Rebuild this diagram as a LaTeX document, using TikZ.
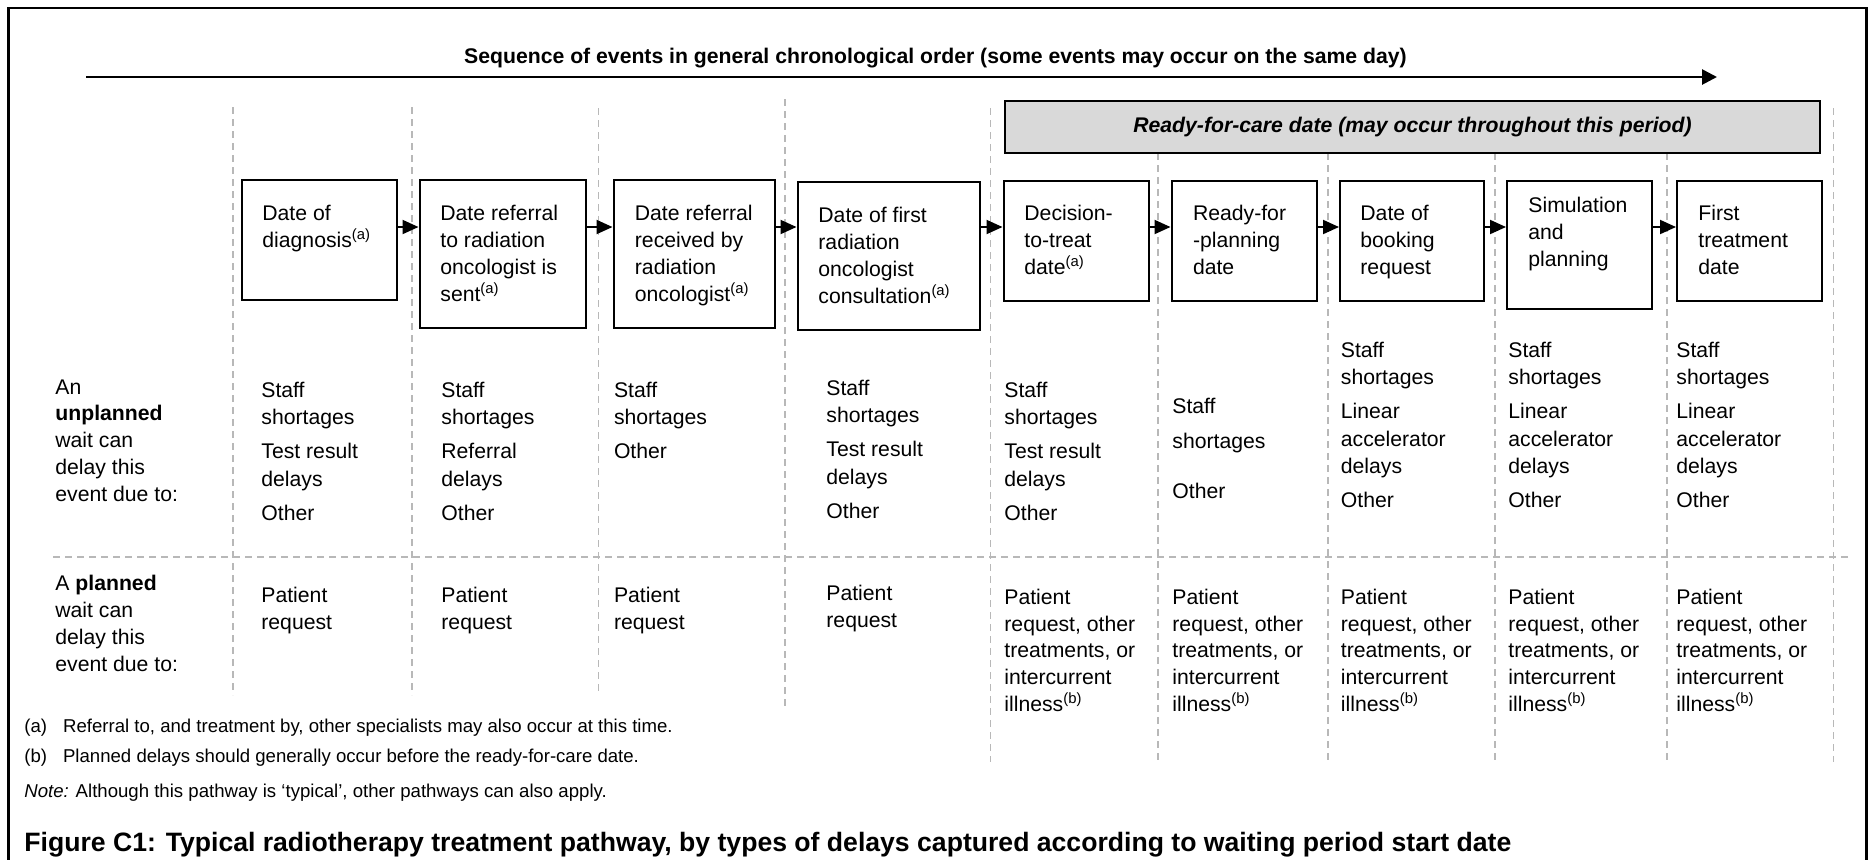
\documentclass[tikz,border=0pt]{standalone}
\usepackage{fontspec}
\setmainfont{Liberation Sans}
\usetikzlibrary{arrows.meta,fit}

\begin{document}
\begin{tikzpicture}[x=0.5pt,y=-0.5pt]
		\tikzset{>={Triangle[length=8pt,width=7pt]},
			evbox/.style={draw, line width=1pt, inner sep=0pt, fill=white},
			evtext/.style={anchor=north west, yshift=7.75pt, align=left, inner sep=0pt, font=\fontsize{10.6}{13.4}\selectfont},
			cause/.style={evtext, font=\fontsize{10.6}{13.7}\selectfont},
			guide/.style={draw=black!28, line width=0.75pt, dash pattern=on 3.5pt off 2.5pt},
			flow/.style={->, line width=1pt},
			fnote/.style={anchor=base west, inner sep=0pt, font=\fontsize{9.3}{11}\selectfont}}
		\useasboundingbox (0,0) rectangle (1870,859);
		\draw[line width=1.3pt] (8.5,865) -- (8.5,8) -- (1866.5,8) -- (1866.5,865);
		\draw[line width=1.35pt, -{Triangle[length=7.5pt,width=7.5pt]}] (86,77) -- (1717,77);
		\node[anchor=base, inner sep=0pt, font=\bfseries\fontsize{10.6}{13}\selectfont] (seq) at (935.5,63.5) {Sequence of events in general chronological order (some events may occur on the same day)};
		
		\draw[guide] (233,107) -- (233,695);
		\draw[guide] (412,107) -- (412,695);
		\draw[guide] (598.5,108) -- (598.5,695);
		\draw[guide] (785,99) -- (785,707);
		\draw[guide] (990.5,108) -- (990.5,762);
		\draw[guide] (1158,153) -- (1158,762);
		\draw[guide] (1328,153) -- (1328,762);
		\draw[guide] (1495,153) -- (1495,762);
		\draw[guide] (1667,153) -- (1667,762);
		\draw[guide] (1833.5,108) -- (1833.5,762);
		\draw[guide] (53,557) -- (1848,557);
		
		\node[draw, line width=1pt, fill=black!15, inner sep=0pt, minimum width=407.5pt, minimum height=26pt, font=\bfseries\itshape\fontsize{10.6}{13}\selectfont] (rfc) at (1412.5,126.7) {Ready-for-care date (may occur throughout this period)};
		
		\node[evbox, fit={(242,180) (397,300)}] (b1) {};
		\node[evbox, fit={(419.5,180) (585.5,328)}] (b2) {};
		\node[evbox, fit={(613.5,180) (775,328)}] (b3) {};
		\node[evbox, fit={(797.5,182) (980,330)}] (b4) {};
		\node[evbox, fit={(1003.5,181) (1148.5,301)}] (b5) {};
		\node[evbox, fit={(1171.5,181) (1316.5,301)}] (b6) {};
		\node[evbox, fit={(1340,181) (1484,301)}] (b7) {};
		\node[evbox, fit={(1507,181) (1652,309)}] (b8) {};
		\node[evbox, fit={(1677,181) (1822,301)}] (b9) {};
		\node[evtext] (t1) at (262,220.5) {Date of\\diagnosis\textsuperscript{(a)}};
		\node[evtext] (t2) at (440,220.5) {Date referral\\to radiation\\oncologist is\\sent\textsuperscript{(a)}};
		\node[evtext] (t3) at (634.5,220.5) {Date referral\\received by\\radiation\\oncologist\textsuperscript{(a)}};
		\node[evtext] (t4) at (818,222.5) {Date of first\\radiation\\oncologist\\consultation\textsuperscript{(a)}};
		\node[evtext] (t5) at (1024,220.5) {Decision-\\to-treat\\date\textsuperscript{(a)}};
		\node[evtext] (t6) at (1192.6,220.5) {Ready-for\\-planning\\date};
		\node[evtext] (t7) at (1360,220.5) {Date of\\booking\\request};
		\node[evtext] (t8) at (1528,212.5) {Simulation\\and\\planning};
		\node[evtext] (t9) at (1698,220.5) {First\\treatment\\date};
		
		\coordinate (flowy) at (0,227);
		\draw[flow] (b1.east |- flowy) -- (b2.west |- flowy);
		\draw[flow] (b2.east |- flowy) -- (b3.west |- flowy);
		\draw[flow] (b3.east |- flowy) -- (b4.west |- flowy);
		\draw[flow] (b4.east |- flowy) -- (b5.west |- flowy);
		\draw[flow] (b5.east |- flowy) -- (b6.west |- flowy);
		\draw[flow] (b6.east |- flowy) -- (b7.west |- flowy);
		\draw[flow] (b7.east |- flowy) -- (b8.west |- flowy);
		\draw[flow] (b8.east |- flowy) -- (b9.west |- flowy);
		
		\node[evtext] (lu) at (55,394.5) {An\\\textbf{unplanned}\\wait can\\delay this\\event due to:};
		\node[cause] (u1) at (261,397) {Staff\\shortages\\[3.3pt]Test result\\delays\\[3.3pt]Other};
		\node[cause] (u2) at (441,397) {Staff\\shortages\\[3.3pt]Referral\\delays\\[3.3pt]Other};
		\node[cause] (u3) at (613.6,397) {Staff\\shortages\\[3.3pt]Other};
		\node[cause] (u4) at (826,395) {Staff\\shortages\\[3.3pt]Test result\\delays\\[3.3pt]Other};
		\node[cause] (u5) at (1004,397) {Staff\\shortages\\[3.3pt]Test result\\delays\\[3.3pt]Other};
		\node[cause] (u6) at (1172,413) {Staff\\[4.05pt]shortages\\[11.05pt]Other};
		\node[cause] (u7) at (1340.5,357) {Staff\\shortages\\[3.3pt]Linear\\accelerator\\delays\\[3.3pt]Other};
		\node[cause] (u8) at (1508,357) {Staff\\shortages\\[3.3pt]Linear\\accelerator\\delays\\[3.3pt]Other};
		\node[cause] (u9) at (1676,357) {Staff\\shortages\\[3.3pt]Linear\\accelerator\\delays\\[3.3pt]Other};
		
		\node[evtext] (lp) at (55,590.5) {A \textbf{planned}\\wait can\\delay this\\event due to:};
		\node[evtext] (p1) at (261,602.5) {Patient\\request};
		\node[evtext] (p2) at (441,602.5) {Patient\\request};
		\node[evtext] (p3) at (613.6,602.5) {Patient\\request};
		\node[evtext] (p4) at (826,600.5) {Patient\\request};
		\node[evtext] (p5) at (1004,604) {Patient\\request, other\\treatments, or\\intercurrent\\illness\textsuperscript{(b)}};
		\node[evtext] (p6) at (1172,604) {Patient\\request, other\\treatments, or\\intercurrent\\illness\textsuperscript{(b)}};
		\node[evtext] (p7) at (1340.5,604) {Patient\\request, other\\treatments, or\\intercurrent\\illness\textsuperscript{(b)}};
		\node[evtext] (p8) at (1508,604) {Patient\\request, other\\treatments, or\\intercurrent\\illness\textsuperscript{(b)}};
		\node[evtext] (p9) at (1676,604) {Patient\\request, other\\treatments, or\\intercurrent\\illness\textsuperscript{(b)}};
		
		\node[fnote] (fa) at (24,732) {\makebox[19.35pt][l]{(a)}Referral to, and treatment by, other specialists may also occur at this time.};
		\node[fnote] (fb) at (24,762) {\makebox[19.35pt][l]{(b)}Planned delays should generally occur before the ready-for-care date.};
		\node[fnote] (nt) at (24,797) {\textit{Note:} Although this pathway is `typical', other pathways can also apply.};
		\node[anchor=base west, inner sep=0pt, font=\bfseries\fontsize{13.3}{16}\selectfont] (cap) at (24,851.5) {Figure C1: Typical radiotherapy treatment pathway, by types of delays captured according to waiting period start date};
		
	\end{tikzpicture}
\end{document}
